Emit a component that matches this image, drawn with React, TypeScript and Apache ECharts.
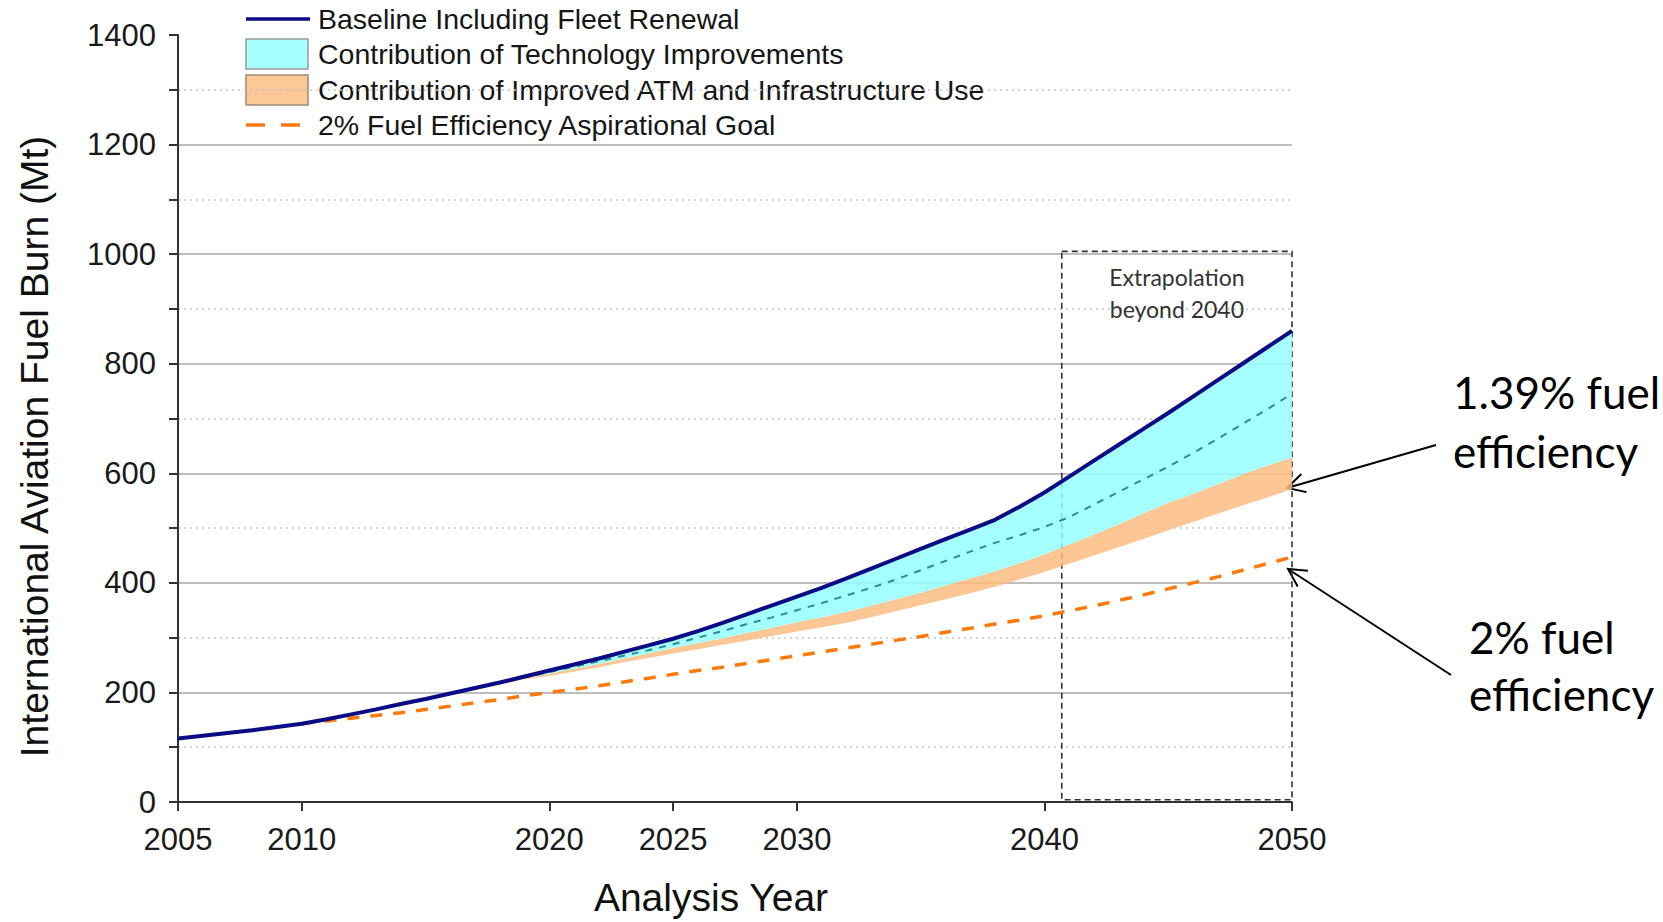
import React, { useEffect, useRef } from "react";
import * as echarts from "echarts";

// ---- data ----
const YEARS = [
  2005, 2006, 2007, 2008, 2009, 2010, 2011, 2012, 2013, 2014,
  2015, 2016, 2017, 2018, 2019, 2020, 2021, 2022, 2023, 2024,
  2025, 2026, 2027, 2028, 2029, 2030, 2031, 2032, 2033, 2034,
  2035, 2036, 2037, 2038, 2039, 2040, 2041, 2042, 2043, 2044,
  2045, 2046, 2047, 2048, 2049, 2050,
];

const BASELINE = [
  116, 121, 126, 131, 137, 143, 151, 160, 169, 179,
  188, 198, 208, 218, 229, 240, 251, 262, 274, 286,
  298, 312, 327, 343, 359, 375, 391, 408, 426, 444,
  462, 480, 497, 515, 539, 565, 594, 623, 652, 681,
  710, 740, 770, 800, 830, 860,
];

// lower edge of the technology contribution (= upper edge of ATM band)
const AFTER_TECH = [
  116, 121, 126, 131, 137, 143, 151, 160, 169, 179,
  188, 198, 208, 217, 226, 234, 243, 252, 262, 271,
  281, 290, 299, 309, 318, 328, 337, 347, 358, 370,
  382, 395, 408, 421, 436, 452, 470, 488, 507, 527,
  546, 562, 580, 598, 614, 629,
];

// lower edge of the ATM / infrastructure contribution
const AFTER_ATM = [
  116, 121, 126, 131, 137, 143, 151, 160, 169, 179,
  188, 198, 207, 216, 224, 230, 238, 246, 255, 263,
  271, 279, 287, 295, 303, 311, 319, 327, 337, 348,
  359, 370, 381, 393, 406, 420, 435, 450, 465, 480,
  496, 511, 526, 541, 556, 571,
];

// thin dashed line inside the technology band
const TECH_MID = [
  116, 121, 126, 131, 137, 143, 151, 160, 169, 179,
  188, 198, 208, 217, 227, 237, 247, 257, 267, 277,
  288, 300, 312, 325, 337, 350, 363, 377, 391, 406,
  423, 440, 457, 473, 487, 502, 520, 543, 566, 589,
  612, 637, 663, 690, 717, 745,
];

const GOAL_2PCT = [
  null, null, null, null, null, 143, 148, 153, 158, 163,
  169, 175, 181, 187, 194, 200, 206, 212, 219, 226,
  233, 240, 246, 253, 260, 267, 274, 281, 288, 295,
  302, 310, 317, 325, 332, 340, 349, 358, 368, 378,
  389, 400, 411, 423, 435, 447,
];

const X_TICKS = [2005, 2010, 2020, 2025, 2030, 2040, 2050];
const EXTRAP_START = 2040.7;
const EXTRAP_TOP = 1005;
const EXTRAP_BOTTOM = 4;

const LEGEND_NAMES = [
  "Baseline Including Fleet Renewal",
  "Contribution of Technology Improvements",
  "Contribution of Improved ATM and Infrastructure Use",
  "2% Fuel Efficiency Aspirational Goal",
];

// ---- styles ----
const NAVY = "#0B0B85";
const CYAN = "#96FFFF";
const PEACH = "#FBBC83";
const ORANGE = "#FF7A0A";
const TEAL = "#2E8C8C";
const AX_FONT = "'Liberation Sans', Arial, sans-serif";
const NOTE_FONT = "Lato, 'Open Sans', sans-serif";

const pairs = (vals: (number | null)[]) => YEARS.map((y, i) => [y, vals[i]]);

function bandSeries(name: string, upper: number[], lower: number[], fill: string) {
  return {
    name,
    type: "custom",
    silent: true,
    z: 1,
    data: [[YEARS[0], upper[0]]],
    renderItem: (params: any, api: any) => {
      if (params.dataIndex !== 0) return null;
      const pts: number[][] = [];
      for (let i = 0; i < YEARS.length; i++) pts.push(api.coord([YEARS[i], upper[i]]));
      for (let i = YEARS.length - 1; i >= 0; i--) pts.push(api.coord([YEARS[i], lower[i]]));
      return {
        type: "polygon",
        shape: { points: pts },
        style: { fill, opacity: 0.85, stroke: null },
      };
    },
  };
}

function arrow(tail: number[], tip: number[]) {
  const dx = tail[0] - tip[0];
  const dy = tail[1] - tip[1];
  const L = Math.hypot(dx, dy);
  const ux = dx / L;
  const uy = dy / L;
  const a = (28 * Math.PI) / 180;
  const len = 20;
  const p1 = [
    tip[0] + len * (ux * Math.cos(a) - uy * Math.sin(a)),
    tip[1] + len * (ux * Math.sin(a) + uy * Math.cos(a)),
  ];
  const p2 = [
    tip[0] + len * (ux * Math.cos(-a) - uy * Math.sin(-a)),
    tip[1] + len * (ux * Math.sin(-a) + uy * Math.cos(-a)),
  ];
  const st = { stroke: "#000", lineWidth: 2, fill: null };
  return [
    { type: "line", shape: { x1: tail[0], y1: tail[1], x2: tip[0], y2: tip[1] }, style: st },
    { type: "polyline", shape: { points: [p1, tip, p2] }, style: st },
  ];
}

export default function App() {
  const ref = useRef<HTMLDivElement>(null);

  useEffect(() => {
    if (!ref.current) return;
    const chart = echarts.init(ref.current, undefined, { renderer: "svg" });

    const legendX = 246;
    const legendRows = [19, 54, 90, 125];
    const legendText = (i: number) => ({
      type: "text",
      x: 318,
      y: legendRows[i],
      style: {
        text: LEGEND_NAMES[i],
        font: `28.5px ${AX_FONT}`,
        fill: "#161616",
        verticalAlign: "middle",
      },
    });

    const plain = (v: number) => String(v);

    const option: any = {
      animation: false,
      backgroundColor: "#ffffff",
      grid: { left: 178, right: 371, top: 35, bottom: 118, containLabel: false },
      xAxis: {
        type: "value",
        min: 2005,
        max: 2050,
        axisLine: { show: true, onZero: false, lineStyle: { color: "#333", width: 2 } },
        axisTick: {
          show: true,
          customValues: X_TICKS,
          length: 9,
          lineStyle: { color: "#333", width: 2 },
        },
        axisLabel: {
          customValues: X_TICKS,
          formatter: plain,
          margin: 22,
          fontSize: 31,
          fontFamily: AX_FONT,
          color: "#1a1a1a",
        },
        splitLine: { show: false },
        name: "Analysis Year",
        nameLocation: "middle",
        nameGap: 76,
        nameTextStyle: {
          fontSize: 39,
          fontFamily: AX_FONT,
          color: "#111",
          padding: [0, 48, 0, 0],
        },
      },
      yAxis: {
        type: "value",
        min: 0,
        max: 1400,
        interval: 200,
        axisLine: { show: true, lineStyle: { color: "#333", width: 2 } },
        axisTick: { show: true, length: 9, lineStyle: { color: "#333", width: 2 } },
        minorTick: { show: true, splitNumber: 2, length: 9, lineStyle: { color: "#333", width: 2 } },
        splitLine: {
          show: true,
          showMaxLine: false,
          lineStyle: { color: "#A8A8A8", width: 1.5 },
        },
        minorSplitLine: {
          show: true,
          lineStyle: { color: "#C4C4C4", width: 1.5, type: [2, 4] },
        },
        axisLabel: {
          formatter: plain,
          margin: 22,
          fontSize: 31,
          fontFamily: AX_FONT,
          color: "#1a1a1a",
        },
        name: "International Aviation Fuel Burn (Mt)",
        nameLocation: "middle",
        nameGap: 124,
        nameTextStyle: {
          fontSize: 39,
          fontFamily: AX_FONT,
          color: "#111",
          padding: [0, 56, 0, 0],
        },
      },
      series: [
        bandSeries(LEGEND_NAMES[2], AFTER_TECH, AFTER_ATM, PEACH),
        bandSeries(LEGEND_NAMES[1], BASELINE, AFTER_TECH, CYAN),
        {
          name: "Technology midpoint",
          type: "line",
          data: pairs(TECH_MID),
          symbol: "none",
          lineStyle: { color: TEAL, width: 2, type: [7, 7] },
          z: 3,
        },
        {
          name: LEGEND_NAMES[3],
          type: "line",
          data: pairs(GOAL_2PCT),
          symbol: "none",
          connectNulls: false,
          lineStyle: { color: ORANGE, width: 3.5, type: [12, 11] },
          color: ORANGE,
          z: 4,
        },
        {
          name: LEGEND_NAMES[0],
          type: "line",
          data: pairs(BASELINE),
          symbol: "none",
          lineStyle: { color: NAVY, width: 4 },
          color: NAVY,
          z: 5,
          markArea: {
            silent: true,
            itemStyle: {
              color: "rgba(0,0,0,0)",
              borderColor: "#333",
              borderWidth: 1.6,
              borderType: [6, 4],
            },
            label: {
              show: true,
              position: "insideTop",
              distance: 10,
              fontFamily: NOTE_FONT,
              fontSize: 23,
              lineHeight: 32,
              color: "#333",
            },
            data: [
              [
                { name: "Extrapolation\nbeyond 2040", xAxis: EXTRAP_START, yAxis: EXTRAP_TOP },
                { xAxis: 2050, yAxis: EXTRAP_BOTTOM },
              ],
            ],
          },
        },
      ],
      graphic: [
        // legend
        {
          type: "line",
          shape: { x1: legendX, y1: legendRows[0], x2: legendX + 64, y2: legendRows[0] },
          style: { stroke: NAVY, lineWidth: 3.5 },
        },
        legendText(0),
        {
          type: "rect",
          shape: { x: legendX, y: legendRows[1] - 15, width: 62, height: 30 },
          style: { fill: "#A6FFFF", stroke: "#9a9a9a", lineWidth: 1.5 },
        },
        legendText(1),
        {
          type: "rect",
          shape: { x: legendX, y: legendRows[2] - 15, width: 62, height: 30 },
          style: { fill: "#FCC898", stroke: "#9a8a7a", lineWidth: 1.5 },
        },
        legendText(2),
        {
          type: "line",
          shape: { x1: legendX, y1: legendRows[3], x2: legendX + 64, y2: legendRows[3] },
          style: { stroke: ORANGE, lineWidth: 3.5, lineDash: [19, 16] },
        },
        legendText(3),
        // annotations
        {
          type: "text",
          x: 1453,
          y: 421,
          style: {
            text: "1.39% fuel\nefficiency",
            font: `44px ${NOTE_FONT}`,
            lineHeight: 59,
            fill: "#000",
            verticalAlign: "middle",
          },
        },
        {
          type: "text",
          x: 1469,
          y: 665,
          style: {
            text: "2% fuel\nefficiency",
            font: `44px ${NOTE_FONT}`,
            lineHeight: 57,
            fill: "#000",
            verticalAlign: "middle",
          },
        },
        ...arrow([1436, 445], [1287, 488]),
        ...arrow([1451, 675], [1288, 569]),
      ],
    };

    chart.setOption(option);
    return () => chart.dispose();
  }, []);

  return (
    <div
      ref={ref}
      style={{ position: "fixed", left: 0, top: 0, width: 1663, height: 922, background: "#fff" }}
    />
  );
}
